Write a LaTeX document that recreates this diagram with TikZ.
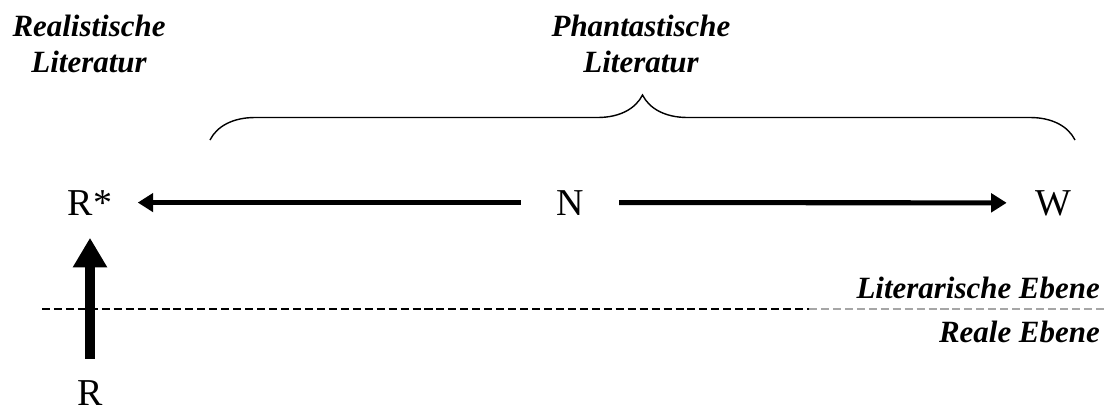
\documentclass[tikz,border=0pt]{standalone}
\usepackage{fontspec}
\setmainfont{Liberation Serif}
\usetikzlibrary{arrows.meta,positioning,decorations.pathreplacing}
\tikzset{
  lbl/.style={font=\fontsize{22}{25.5}\selectfont\bfseries\itshape,inner sep=0pt,align=center},
  pt/.style={font=\fontsize{27}{30}\selectfont,inner sep=0pt},
  ar/.style={-{Triangle[length=11pt,width=13pt]},line width=3.6pt},
  bigar/.style={-{Triangle[length=21pt,width=23pt]},line width=7pt},
  ebene/.style={dash pattern=on 5.7pt off 2.8pt,line width=0.8pt},
  brc/.style={decorate,decoration={brace,amplitude=32pt},line width=1pt},
}
\begin{document}
\begin{tikzpicture}[x=0.025cm,y=-0.025cm]
\useasboundingbox (0,0) rectangle (1110,410);
% labels on top
\node[lbl,anchor=north] (real) at (89,15) {Realistische\\Literatur};
\node[lbl,anchor=north] (phant) at (641,15) {Phantastische\\Literatur};
% brace over N .. W
\coordinate (bl) at (210,140);
\coordinate (br) at (1075,140);
\draw[brc] (bl) -- (br);
% the three worlds
\node[pt,anchor=base] (Rs) at (90,215) {R*};
\node[pt,anchor=base] (N) at (570,215) {N};
\node[pt,anchor=base] (W) at (1053,215) {W};
\node[pt,anchor=base] (R) at (90,405) {R};
\draw[ar,shorten <=25pt,shorten >=18pt] (N) -- (Rs);
\draw[ar,shorten <=25pt,shorten >=20pt] (N) -- (W);
\draw[bigar,shorten <=15pt,shorten >=16pt] (R) -- (Rs);
% level line
\coordinate (l0) at (42,309);
\coordinate (l1) at (809,309);
\coordinate (l2) at (1105,309);
\draw[ebene] (l0) -- (l1);
\draw[ebene,gray!70] (l1) -- (l2);
\node[lbl,anchor=base east] (lit) at (1100,298) {Literarische Ebene};
\node[lbl,anchor=base east] (reale) at (1100,342) {Reale Ebene};
\end{tikzpicture}
\end{document}
